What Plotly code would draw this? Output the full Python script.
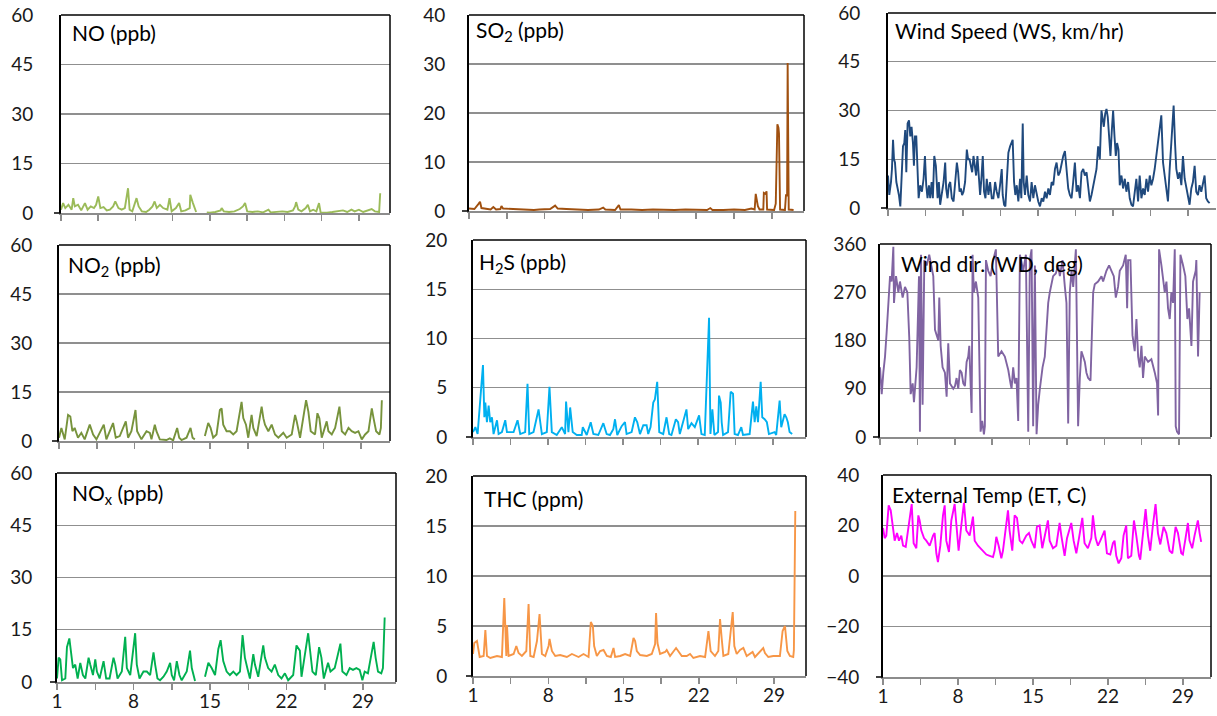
import plotly.graph_objects as go

# ---------------- DATA (day of month, value) ----------------
no_day = [1.0,1.2,1.4,1.7,2.0,2.15,2.3,2.6,2.9,3.25,3.5,3.8,4.1,4.3,4.5,4.7,5.0,5.3,5.6,5.9,6.1,6.4,6.7,7.0,7.3,7.45,7.7,8.1,8.3,8.6,9.0,9.3,9.6,9.8,10.0,10.3,10.6,11.0,11.2,11.4,11.8,12.1,12.3,12.7,13.1,13.15,13.4,13.7,14.2,
          14.7,15.0,15.5,16.0,16.1,16.3,16.8,17.3,17.8,18.1,18.3,18.5,19.0,19.5,20.0,20.5,20.7,21.3,21.8,22.3,22.8,23.0,23.1,23.3,23.6,24.0,24.2,24.4,24.7,25.0,25.25,25.4,26.0,26.5,27.0,27.5,27.9,28.3,28.6,29.0,29.4,29.8,30.2,30.5,30.9,31.0]
no_val = [1.0,3.0,1.5,2.5,1.0,4.5,2.0,2.5,0.8,3.0,1.0,2.0,1.5,2.5,5.0,1.5,1.8,0.8,1.0,2.0,3.5,1.5,1.0,1.5,7.5,1.0,0.5,4.5,2.0,0.5,0.3,1.0,2.0,3.5,1.5,2.5,1.5,1.0,4.5,0.5,1.5,3.0,0.5,0.8,1.5,5.5,3.0,0.3,None,
          0.2,0.1,0.3,0.8,1.5,0.5,0.3,0.5,1.2,2.0,3.0,0.5,0.3,0.5,0.2,1.0,0.2,0.3,0.5,0.3,0.8,2.0,3.3,1.0,0.5,1.5,2.5,0.5,1.0,0.5,3.0,0.2,0.1,0.3,0.5,0.8,0.3,1.0,0.5,1.0,0.3,0.8,1.2,0.5,0.3,6.0]

so2_day = [1.0,1.5,1.9,2.02,2.15,2.5,3.0,3.25,3.5,3.9,4.0,4.15,5.0,6.0,7.0,7.5,8.5,8.96,9.2,10.0,11.0,12.0,13.0,13.4,13.6,14.5,14.85,15.0,16.0,17.0,18.0,19.0,20.0,21.0,22.0,23.0,23.3,23.5,24.5,25.5,26.5,27.1,27.4,27.5,27.7,27.85,28.2,28.25,28.4,28.5,28.55,29.2,29.35,29.4,29.5,29.6,29.65,29.75,30.2,30.3,30.4,30.45,30.55,31.0]
so2_val = [0.5,0.4,1.5,1.9,0.6,0.5,0.3,0.8,0.3,0.4,1.0,0.5,0.4,0.3,0.2,0.3,0.4,1.1,0.5,0.4,0.3,0.2,0.3,0.7,0.3,0.2,1.2,0.3,0.3,0.2,0.3,0.2,0.2,0.3,0.2,0.2,0.6,0.2,0.2,0.3,0.2,0.5,0.3,3.5,1.0,0.3,0.3,3.7,3.5,4.0,0.3,0.2,1.5,6.5,17.7,17.0,15.8,0.3,0.2,3.4,3.0,30.2,0.3,0.2]

ws_day = [1.00,1.12,1.28,1.37,1.47,1.56,1.65,1.78,1.90,2.02,2.15,2.27,2.40,2.52,2.61,2.71,2.83,2.96,3.08,3.20,3.33,3.42,3.52,3.64,3.76,3.86,
          4.01,4.17,4.32,4.45,4.57,4.69,4.82,4.94,5.07,5.19,5.32,5.47,5.63,5.75,5.87,6.03,6.19,6.34,6.43,6.56,6.68,6.81,6.96,7.12,7.27,7.43,7.55,7.68,7.80,7.92,
          8.05,8.20,8.36,8.48,8.61,8.73,8.86,8.98,9.10,9.23,9.35,9.48,9.60,9.72,9.85,9.97,10.10,10.22,10.38,10.53,10.69,10.84,11.00,11.15,11.31,11.46,11.62,11.71,11.84,11.96,
          12.08,12.24,12.40,12.55,12.64,12.77,12.89,13.02,13.17,13.33,13.45,13.58,13.67,13.79,13.95,14.10,14.26,14.41,14.57,14.72,14.88,15.03,15.19,15.35,15.50,15.66,15.81,15.97,
          16.12,16.28,16.43,16.59,16.74,16.90,17.05,17.21,17.36,17.52,17.67,17.83,17.98,18.14,18.29,18.45,18.61,18.76,18.92,19.07,19.23,19.38,19.54,19.69,19.85,20.00,
          20.16,20.31,20.47,20.62,20.78,20.93,21.03,21.15,21.28,21.40,21.52,21.65,21.77,21.90,22.02,22.15,22.27,22.39,22.52,22.64,22.80,22.95,23.11,23.26,23.42,23.57,23.73,23.88,
          24.04,24.19,24.35,24.50,24.66,24.82,24.97,25.13,25.28,25.44,25.59,25.75,25.90,26.06,26.21,26.37,26.52,26.68,26.83,26.99,27.14,27.30,27.45,27.55,27.67,27.80,27.92,
          28.08,28.23,28.39,28.54,28.70,28.85,29.01,29.16,29.32,29.47,29.63,29.78,29.94,30.09,30.25,30.40,30.56,30.71,30.87,31.03]
ws_val = [10,4,8,12,21,15,14,8,6,4,0.5,10,19,20,24,11,26,27,22,25,20,13,22,22,10,3,
          7,5,9,16,7,3,7,3,8,3,16,13,3,8,1,4,8,14,6,3,7,8,3,2,9,14,11,5,6,4,
          5,8,18,15,15,13,11,16,13,10,16,8,4,9,16,5,3,9,4,8,3,3,8,5,3,7,12,4,1,0.5,
          8,17,19,20,21,8,4,7,2,9,3,26,8,4,10,4,2,8,3,7,4,2,0.5,3,2,5,3,6,
          4,8,7,12,14,10,11,14,16,17.5,12,6,4,3,8,14,5,7,3,11,12,10,11,6,2,4,
          7,9,12,19,15,30,27,25,29,30.5,28,20,16,24,30,22,16,20,18,7,10,6,9,5,8,3,1,0.5,
          5,9,2,10,3,6,4,9,5,10,7,9,12,16,20,24,28.5,14,10,5,2,12,20,22,31.5,20,12,
          9,11,7,16,9,6,3,1,6,8,13,5,4,7,5,8,10,3,2,1.5]

no2_day = [1.00,1.22,1.53,1.84,2.05,2.24,2.45,2.76,3.07,3.38,3.85,4.16,4.47,4.77,5.15,5.39,6.01,6.26,6.63,7.19,7.40,7.71,8.09,8.24,8.64,9.11,9.42,9.57,9.88,10.03,10.34,10.96,11.27,11.58,11.95,12.14,12.36,12.82,13.19,13.38,13.59,14.0,
           14.52,14.83,15.05,15.29,15.60,15.91,16.07,16.22,16.53,16.84,17.15,17.46,17.92,18.08,18.33,18.54,18.85,19.01,19.32,19.78,19.94,20.09,20.40,20.71,21.02,21.33,21.79,22.10,22.57,22.88,23.03,23.34,23.90,24.11,24.33,24.73,24.95,25.13,25.35,25.81,25.97,26.28,26.59,26.99,27.21,27.52,27.83,28.13,28.44,28.75,29.06,29.37,29.68,29.99,30.15,30.39,30.70,30.83,30.92]
no2_val = [1,4,0.5,8,7.5,3,4,1,2.5,0.5,5,2,0.5,2.5,5,0.5,5.5,1,1.5,6,1,3,9.5,3,0.5,3,2.5,0.5,5,3,0.5,0.3,0.8,0.2,4,1,0.3,1,4,1,0.5,None,
           1.5,5.5,4,1,2,9.5,10,5,3,3,2,3,12,7,5,1,8,4,1.5,10.5,7,5,3,5,2,1,2.5,1,2,8,6,1,12.5,9,3,2,8.5,7,1,6,3,2,4,10.5,3,2,4,3,2.5,3,0.5,2,3,10,7,3,2,4,12.5]

h2s_day = [1.00,1.22,1.43,1.75,1.93,2.06,2.15,2.30,2.46,2.61,2.77,2.92,3.24,3.39,3.70,4.01,4.17,4.48,4.79,5.16,5.41,5.87,6.09,6.25,6.65,7.12,7.43,7.89,8.14,8.36,8.82,9.29,9.60,9.69,9.91,10.07,10.31,10.69,11.15,11.25,11.62,11.99,12.24,12.70,13.17,13.48,13.79,14.10,14.26,14.47,14.88,15.19,15.34,15.81,16.12,16.34,16.59,16.90,17.21,17.36,17.58,17.83,17.98,18.20,18.39,18.76,19.07,19.32,19.53,19.94,20.15,20.31,20.93,21.09,21.40,21.71,22.02,22.11,22.33,22.64,23.04,23.17,23.35,23.54,23.88,23.97,24.13,24.22,24.35,24.81,25.06,25.28,25.43,25.74,26.05,26.21,26.83,27.14,27.30,27.45,27.61,27.86,28.01,28.23,28.44,28.63,29.16,29.31,29.63,29.78,30.09,30.25,30.40,30.56,30.80]
h2s_val = [0.5,1,0.3,4.5,7.3,2,3.5,1.5,3.2,1.5,2,0.3,1.7,0.3,0.5,1.7,0.5,0.5,0.5,1.7,0.3,0.5,5.4,0.3,0.5,2.8,0.3,0.5,5.1,0.5,0.2,1,0.3,3.6,0.5,3.0,0.5,0.2,0.2,1,0.2,1.5,0.3,0.2,1.4,0.3,0.2,0.8,1.8,0.2,1.1,1.5,0.3,0.5,2.0,1.5,0.3,1.2,1.2,0.3,1.0,3.5,3.8,5.6,0.5,0.3,2.0,0.3,0.2,1.8,1.5,0.3,2.8,0.8,1.4,1.0,1.9,2.2,0.3,0.2,12.1,0.3,2.8,0.2,0.5,4.2,3.5,1.5,0.2,0.5,4.6,4.4,0.3,0.2,1.0,0.2,0.3,3.6,1.5,3.1,1.5,5.6,2,1.8,1.5,0.3,0.5,0.2,3.7,1,2.3,2,1.5,0.5,0.3]

wd_day = [1.00,1.16,1.31,1.47,1.62,1.78,1.94,2.09,2.25,2.31,2.50,2.72,2.87,3.12,3.34,3.56,3.74,3.87,4.06,4.18,4.43,4.65,4.74,4.84,4.99,5.15,5.37,5.61,5.99,6.15,6.46,6.55,6.68,6.86,7.08,7.24,7.39,7.55,7.86,8.02,8.17,8.33,8.48,8.64,8.80,8.95,9.11,9.26,9.36,9.58,9.67,9.79,9.98,10.20,10.42,10.57,10.73,10.82,10.92,11.13,11.35,11.60,11.85,12.07,12.38,12.69,13.01,13.22,13.32,13.47,13.63,13.78,13.94,14.10,14.41,14.66,14.88,15.03,15.19,15.34,15.50,15.66,15.81,15.97,16.22,16.43,16.59,16.75,16.90,17.21,17.46,17.68,17.84,18.09,18.31,18.46,18.62,18.77,18.93,19.09,19.34,19.55,19.71,19.86,20.02,20.18,20.33,20.49,20.71,20.96,21.11,21.42,21.74,21.89,22.20,22.45,22.67,22.89,23.08,23.29,23.45,23.76,24.01,24.14,24.23,24.45,24.64,24.85,25.01,25.17,25.32,25.48,25.63,25.79,26.10,26.41,26.73,26.94,27.04,27.13,27.35,27.50,27.66,27.82,27.97,28.13,28.28,28.44,28.60,28.69,28.81,29.00,29.13,29.38,29.59,29.78,29.94,30.16,30.31,30.56,30.62,30.78,30.93]
wd_val = [130,80,120,150,195,240,300,290,355,250,300,270,290,260,280,270,185,80,100,65,130,300,10,340,60,330,320,340,300,200,180,260,170,130,120,75,175,100,90,95,110,90,125,120,100,95,140,150,170,45,340,270,290,260,10,30,5,20,330,310,300,330,350,150,160,150,125,100,90,130,100,110,30,340,310,340,10,330,350,20,320,5,60,90,130,150,200,250,270,300,305,320,300,330,280,250,25,270,310,280,350,20,110,160,150,140,120,110,105,270,285,290,300,290,310,320,310,300,260,280,310,320,340,240,330,330,190,160,220,150,130,170,110,150,140,145,120,100,40,350,320,300,270,290,240,220,270,250,350,20,10,5,340,320,300,220,240,170,290,310,330,150,270]

nox_day = [1.00,1.15,1.30,1.46,1.76,1.91,2.13,2.28,2.46,2.67,2.89,3.13,3.37,3.59,3.89,4.04,4.29,4.50,4.65,4.90,5.26,5.50,5.81,6.17,6.33,6.54,6.93,7.24,7.39,7.70,8.00,8.15,8.30,8.55,8.91,9.22,9.52,9.83,9.98,10.19,10.43,10.74,11.04,11.35,11.50,11.71,11.96,12.20,12.41,12.87,13.17,13.33,13.63,14.0,
           14.54,14.85,15.15,15.46,15.76,15.97,16.21,16.52,16.82,17.13,17.43,17.74,17.98,18.19,18.41,18.65,18.96,19.11,19.41,19.87,20.02,20.32,20.63,20.93,21.24,21.54,21.85,22.15,22.61,22.91,23.22,23.37,23.98,24.13,24.37,24.68,24.98,25.19,25.41,25.80,26.02,26.41,26.93,27.11,27.48,27.78,28.08,28.39,28.69,28.94,29.15,29.45,29.97,30.15,30.37,30.67,30.82,30.98]
nox_val = [1,7,6.5,0.5,1,10,12.5,8,4,5,1,5.5,2,1,7,5,2,6.5,3,1,6,1,1,7,5,1,3,13,4,2,10,14,5,1,3,3,2,8.5,5,1,0.5,1.5,3,5.5,2,0.5,6,2,0.5,3,9,4,0.3,None,
           1.5,5.5,4,2,9.5,12,6,3,2,3,2,3,13.5,7,4,1,8,5,1.5,10.5,7,4,3,5,2,1,2.5,0.5,2,10.5,9,1.5,14,10,3,2,10,7,1,5.5,3,4,11,3,2,4,3.5,4,3.5,0.5,3,2.5,11.5,7,3,2.5,4,18.5]

thc_day = [1.00,1.12,1.37,1.62,1.99,2.15,2.30,2.61,3.23,3.69,3.91,4.10,4.16,4.31,4.78,5.03,5.24,5.55,5.96,6.17,6.33,6.64,6.95,7.19,7.41,7.72,8.03,8.12,8.34,8.65,9.11,9.73,10.20,10.82,11.28,11.75,11.96,12.15,12.27,12.52,12.83,13.14,13.45,13.82,14.07,14.22,14.69,15.15,15.62,15.93,16.08,16.24,16.55,17.17,17.63,17.94,18.03,18.16,18.40,18.87,19.02,19.33,19.89,20.11,20.42,20.88,21.19,21.50,22.12,22.59,22.90,23.11,23.51,23.82,23.98,24.13,24.29,24.75,24.91,25.16,25.31,25.53,25.84,26.15,26.46,27.01,27.23,28.00,28.16,28.47,28.93,29.55,29.80,30.02,30.24,30.48,30.79,30.85,30.98]
thc_val = [2.2,3.3,3.5,1.9,2.0,4.6,2.0,1.8,2.0,1.9,7.8,2.0,5.1,2.0,2.2,3.0,2.3,2.0,2.5,7.2,2.0,1.9,3.5,6.2,2.2,2.0,3.0,3.7,2.5,2.0,2.1,1.9,2.2,1.9,2.2,1.9,5.4,5.0,3.0,2.0,2.5,2.6,2.0,1.9,2.8,1.9,2.0,2.2,2.0,3.8,3.5,2.5,2.1,2.0,2.2,3.2,6.3,3.3,2.2,2.4,2.6,2.0,2.8,2.5,2.0,2.0,2.2,1.8,2.0,1.9,4.5,2.5,2.0,2.5,5.7,3.8,2.0,2.2,4.0,6.4,3.0,2.2,2.6,2.8,2.0,2.4,1.9,2.8,2.3,1.9,2.0,2.0,4.5,5.0,2.5,2.0,1.9,2.6,16.5]

et_day = [1.00,1.16,1.31,1.53,1.72,1.93,2.09,2.31,2.49,2.71,2.87,3.12,3.33,3.49,3.68,3.86,4.11,4.30,4.42,4.58,4.83,5.04,5.36,5.67,5.82,5.98,6.13,6.35,6.60,6.76,6.91,7.16,7.38,7.69,7.84,8.06,8.31,8.56,8.78,9.09,9.40,9.56,9.87,10.33,10.65,10.96,11.27,11.42,11.58,11.80,12.05,12.20,12.45,12.67,12.82,13.07,13.29,13.51,13.76,14.01,14.38,14.63,14.85,15.16,15.37,15.62,15.87,16.18,16.40,16.56,16.87,17.18,17.49,17.65,17.96,18.18,18.58,18.80,19.05,19.30,19.61,19.82,20.13,20.45,20.60,20.85,21.07,21.29,21.54,21.69,21.91,22.22,22.47,22.62,22.78,23.00,23.25,23.46,23.71,23.87,24.18,24.43,24.65,24.90,25.02,25.27,25.52,25.74,25.95,26.20,26.45,26.67,26.89,27.20,27.45,27.76,28.01,28.32,28.54,28.85,29.00,29.25,29.47,29.62,29.87,30.09,30.40,30.56,30.71]
et_val = [19,15,16,28,26,18,14,17,14,16,12,11.5,18,22,28.5,13,11,24,22,18,15,14,12,16,17,9,5.5,12,24,28,14,9.5,22,28.5,22,10,20,29,18,16,23.5,14,12,10,8.5,8,7.5,10,15.5,12,7,10,20,26,18,10,24,23,14,13,16,17,14,11,19.5,20,11,18,22,14,11,12,21,16,8,15,21,14,9,15,23,13,11,15,24,15,12,14,17,18,9,8.5,13,14,8,5,7,16,20,7,8,22,16,8,6.5,18,26.5,16,10,20,28.5,17,12.5,19.5,17,10,9,19.5,17,9,8.5,15,21,14,11,16,22,17,13.5]

x_label_vals = [1, 8, 15, 22, 29]
x_label_text = ["1", "8", "15", "22", "29"]

# ---------------- PANELS ----------------
W, H = 1217, 716
FONT = "Lato"
TICK_SIZE = 19
TITLE_SIZE = 21
# title, x, y, color, ymin, ymax, dtick, geometry(day1_px, right_px, px_per_day, top_px, bottom_px, ylabel_gap), title pos
panels = [
    ("NO (ppb)", no_day, no_val, "#9BBB59", 0, 60, 15, (61, 390, 10.64, 15, 213, 22), (70, 33)),
    ("SO<sub>2</sub> (ppb)", so2_day, so2_val, "#A0500F", 0, 40, 10, (469, 804, 10.82, 15, 211, 18), (474, 31)),
    ("Wind Speed (WS, km/hr)", ws_day, ws_val, "#1F497D", 0, 60, 15, (888, 1216, 10.71, 13, 208, 22), (893, 30)),
    ("NO<sub>2</sub> (ppb)", no2_day, no2_val, "#77933C", 0, 60, 15, (59, 390, 10.79, 245, 441, 21), (66, 266)),
    ("H<sub>2</sub>S (ppb)", h2s_day, h2s_val, "#00B0F0", 0, 20, 5, (473, 806, 10.71, 240, 437, 20), (477, 263)),
    ("Wind dir. (WD, deg)", wd_day, wd_val, "#8064A2", 0, 360, 90, (880, 1211, 10.68, 244, 437, 8), (899, 264)),
    ("NO<sub>x</sub> (ppb)", nox_day, nox_val, "#00B050", 0, 60, 15, (57, 396, 10.93, 473, 682, 19), (70, 494)),
    ("THC (ppm)", thc_day, thc_val, "#F79646", 0, 20, 5, (473, 806, 10.75, 476, 676, 20), (482, 498)),
    ("External Temp (ET, C)", et_day, et_val, "#FF00FF", -40, 40, 20, (883, 1211, 10.71, 475, 677, 18), (890, 494)),
]

fig = go.Figure()
layout = dict(
    template="none",
    width=W, height=H, margin=dict(l=0, r=0, t=0, b=0, pad=0, autoexpand=False),
    paper_bgcolor="white", plot_bgcolor="white", showlegend=False,
    font=dict(family=FONT, size=TICK_SIZE, color="#1a1a1a"),
)
shapes = []
annotations = []

for i, (title, xs, ys, color, ymin, ymax, dt, geo, tpos) in enumerate(panels, start=1):
    x0, x1, ppd, top, bot, gap = geo
    xname = "xaxis" if i == 1 else f"xaxis{i}"
    yname = "yaxis" if i == 1 else f"yaxis{i}"
    xr = "x" if i == 1 else f"x{i}"
    yr = "y" if i == 1 else f"y{i}"
    fig.add_trace(go.Scatter(x=xs, y=ys, mode="lines", line=dict(color=color, width=1.9),
                             connectgaps=False, xaxis=xr, yaxis=yr, hoverinfo="skip"))
    bottom_row = i >= 7
    layout[xname] = dict(
        domain=[x0 / W, x1 / W], range=[1, 1 + (x1 - x0) / ppd], anchor=yr,
        automargin=False, ticklabeloverflow="allow",
        showgrid=False, zeroline=False, showline=True, linecolor="#8C8C8C", linewidth=2,
        ticks="outside", ticklen=6, tickwidth=1.5, tickcolor="#8C8C8C",
        tickmode="array", tickvals=x_label_vals, ticktext=x_label_text,
        minor=dict(tickmode="linear", tick0=1, dtick=3.5, ticks="outside", ticklen=6,
                   tickwidth=1.5, tickcolor="#8C8C8C", showgrid=False),
        showticklabels=bottom_row, ticklabelstandoff=-5,
        tickfont=dict(family=FONT, size=TICK_SIZE, color="#1a1a1a"),
        fixedrange=True,
    )
    layout[yname] = dict(
        domain=[1 - bot / H, 1 - top / H], range=[ymin, ymax], anchor=xr,
        automargin=False, ticklabeloverflow="allow",
        tickmode="linear", dtick=dt, tick0=ymin, showgrid=True, gridcolor="#8F8F8F", gridwidth=1.2,
        zeroline=False, showline=True, linecolor="black", linewidth=2, ticks="",
        ticklabelstandoff=gap, tickfont=dict(family=FONT, size=TICK_SIZE, color="#1a1a1a"),
        fixedrange=True,
    )
    # top and right frame lines
    shapes.append(dict(type="line", xref=f"{xr} domain", yref=f"{yr} domain", x0=0, x1=1, y0=1, y1=1,
                       line=dict(color="black", width=1.5), layer="above"))
    if i != 3:
        shapes.append(dict(type="line", xref=f"{xr} domain", yref=f"{yr} domain", x0=1, x1=1, y0=0, y1=1,
                           line=dict(color="black", width=1.5), layer="above"))
    # small dash left of the origin
    shapes.append(dict(type="line", xref="paper", yref="paper", x0=(x0 - 7) / W, x1=x0 / W,
                       y0=1 - bot / H, y1=1 - bot / H, line=dict(color="black", width=1.5)))
    annotations.append(dict(text=title, xref="paper", yref="paper", x=tpos[0] / W, y=1 - tpos[1] / H,
                            xanchor="left", yanchor="middle", showarrow=False,
                            font=dict(family=FONT, size=TITLE_SIZE, color="black")))

layout["shapes"] = shapes
layout["annotations"] = annotations
fig.update_layout(**layout)

fig.write_html("out.html", config={"displayModeBar": False, "staticPlot": True},
               post_script="document.body.style.margin='0';")
